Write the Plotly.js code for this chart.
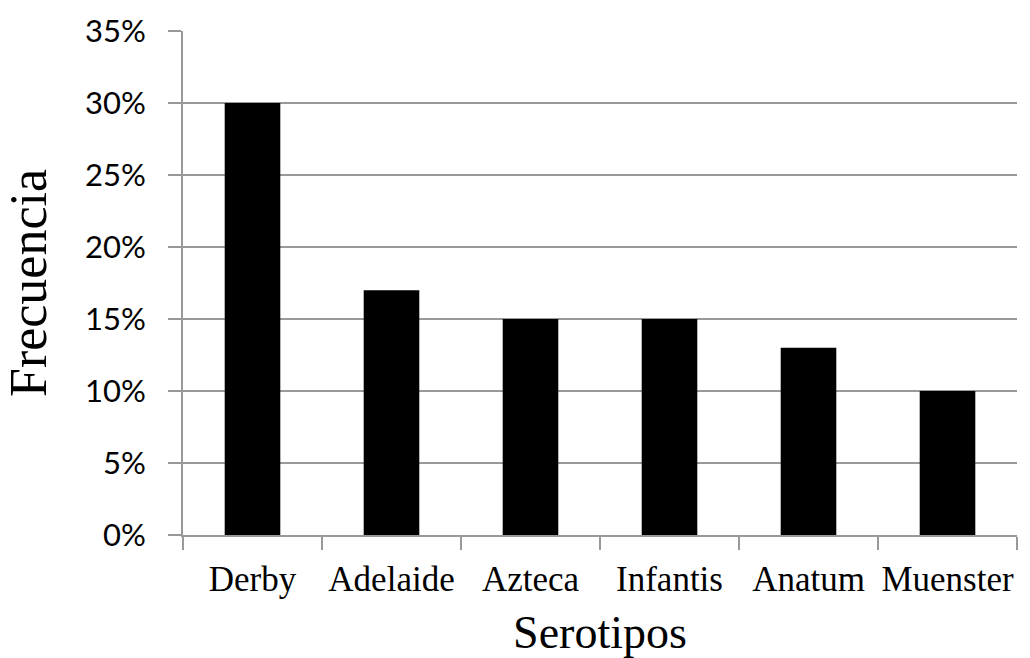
<!DOCTYPE html>
<html>
<head>
<meta charset="utf-8">
<script src="https://cdn.plot.ly/plotly-3.0.1.min.js"></script>
<style>html,body{margin:0;padding:0;background:#fff;}#chart{width:1030px;height:658px;}</style>
</head>
<body>
<div id="chart"></div>
<script>
const categories = ["Derby", "Adelaide", "Azteca", "Infantis", "Anatum", "Muenster"];
const frecuencia = [30, 17, 15, 15, 13, 10];
const yTickValues = [0, 5, 10, 15, 20, 25, 30, 35];

const serif = 'Liberation Serif';

const trace = {
  type: 'bar',
  x: categories,
  y: frecuencia,
  marker: {color: '#000000', line: {width: 0}},
  hoverinfo: 'x+y'
};

const layout = {
  width: 1030,
  height: 658,
  margin: {l: 183, r: 13, t: 31, b: 123},
  paper_bgcolor: '#ffffff',
  plot_bgcolor: '#ffffff',
  font: {family: serif, color: '#000'},
  bargap: 0.6,
  showlegend: false,
  xaxis: {
    type: 'category',
    tickson: 'boundaries',
    ticks: 'outside',
    ticklen: 13,
    tickwidth: 2,
    tickcolor: '#999999',
    tickangle: 0,
    showline: true,
    linecolor: '#999999',
    linewidth: 2,
    showgrid: false,
    ticklabelstandoff: 12,
    tickfont: {family: serif, size: 35, color: '#000'},
    title: {text: 'Serotipos', font: {family: serif, size: 46, color: '#000'}, standoff: 24}
  },
  yaxis: {
    range: [0, 35],
    tickvals: yTickValues,
    ticktext: yTickValues.map(v => v + '%'),
    ticks: 'outside',
    ticklen: 13,
    tickwidth: 2,
    tickcolor: '#999999',
    showline: true,
    linecolor: '#999999',
    linewidth: 2,
    showgrid: true,
    gridcolor: '#999999',
    gridwidth: 2,
    zeroline: false,
    ticklabelstandoff: 16,
    tickfont: {family: 'Lato', size: 31, color: '#000'},
    title: {text: 'Frecuencia', font: {family: serif, size: 52, color: '#000'}, standoff: 28}
  }
};

Plotly.newPlot('chart', [trace], layout, {displayModeBar: false, staticPlot: true});
</script>
</body>
</html>
